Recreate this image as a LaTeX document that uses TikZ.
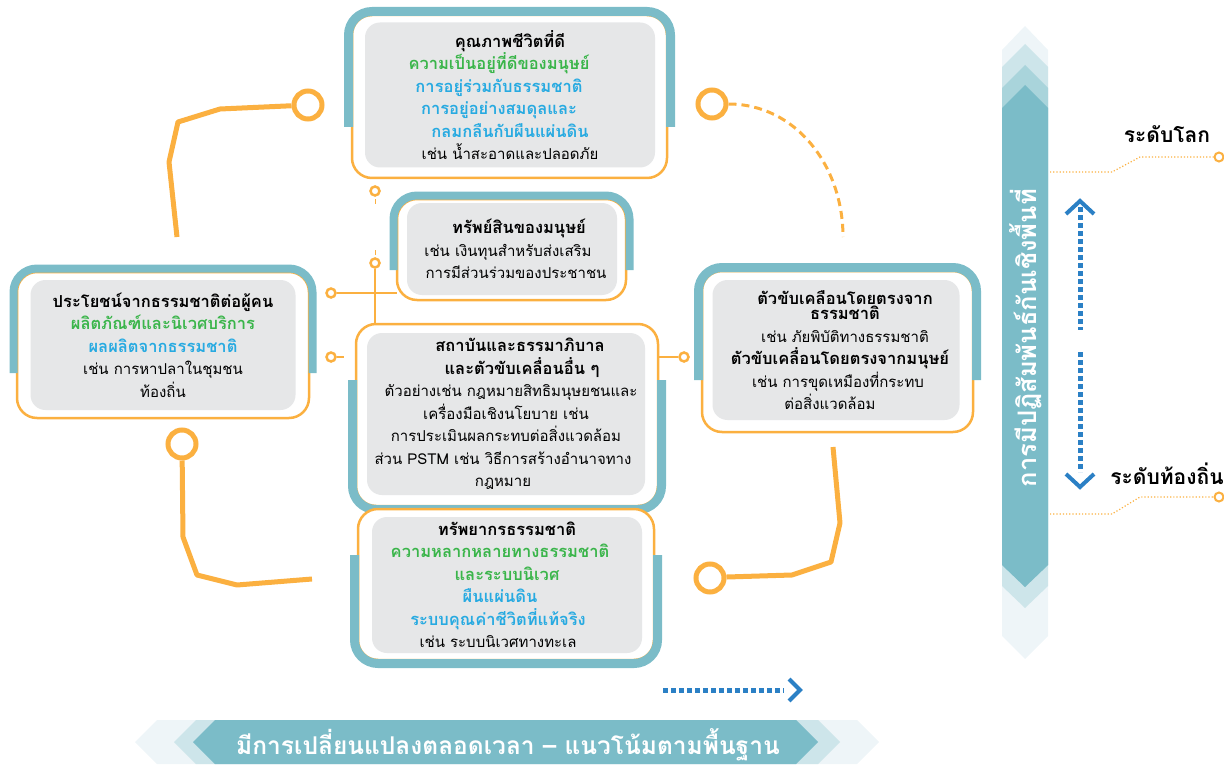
\documentclass[tikz,border=0pt]{standalone}
\usepackage{fontspec}
\setmainfont[Script=Thai]{Loma}
\usepackage{tikz}
\usetikzlibrary{positioning}

\definecolor{teal1}{HTML}{7BBCC8}
\definecolor{pale0}{HTML}{EEF5F8}
\definecolor{pale1}{HTML}{CDE5EA}
\definecolor{pale2}{HTML}{A9D4DB}
\definecolor{orng}{HTML}{FBB040}
\definecolor{boxgray}{HTML}{E6E7E8}
\definecolor{tgreen}{HTML}{3AB54A}
\definecolor{tblue}{HTML}{27AAE1}
\definecolor{arrblue}{HTML}{2B80C5}
\newcommand{\hd}[1]{{\fontsize{16.5}{22.5}\selectfont\bfseries #1}}

\begin{document}
\begin{tikzpicture}[x=1pt,y=-1pt]
\tikzstyle{gbox}=[rectangle, rounded corners=15pt, fill=boxgray, align=center, inner sep=0pt, font=\fontsize{15}{22.5}\selectfont]
\tikzstyle{shell}=[rounded corners=20pt, fill=white, draw=orng, line width=2.5pt]
\tikzstyle{band}=[rounded corners=23.5pt, draw=teal1, line width=9pt]
\tikzstyle{ring}=[circle, draw=orng, fill=white, line width=5pt, minimum size=28pt, inner sep=0pt]
\tikzstyle{knob}=[circle, draw=orng, fill=white, line width=2.5pt, minimum size=9pt, inner sep=0pt]
\tikzstyle{wire}=[draw=orng, line width=5pt, line join=round]
\tikzstyle{twig}=[draw=orng, line width=2pt]
\tikzstyle{hint}=[draw=orng, line width=1.2pt, dotted]
\tikzstyle{trend}=[draw=arrblue, line width=5pt, dash pattern=on 5pt off 3pt]
\tikzstyle{chev}=[draw=arrblue, line width=4pt]
\tikzstyle{lab}=[font=\bfseries\fontsize{21}{24}\selectfont]
\tikzstyle{title}=[text=white, font=\bfseries\fontsize{24.5}{26}\selectfont]
\useasboundingbox (0,0) rectangle (1224,765);
\clip (0,0) rectangle (1224,765);

% side band
\fill[pale0] (1025,26) -- (1048,50) -- (1048,636) -- (1025,659) -- (1002,636) -- (1002,50) -- cycle;
\fill[pale1] (1025,44) -- (1048,67) -- (1048,586) -- (1025,608) -- (1002,586) -- (1002,67) -- cycle;
\fill[pale2] (1025,65) -- (1048,88) -- (1048,565) -- (1025,587) -- (1002,565) -- (1002,88) -- cycle;
\fill[teal1] (1025,85) -- (1048,108) -- (1048,565) -- (1025,587) -- (1002,565) -- (1002,108) -- cycle;
\node[title, rotate=90, font=\bfseries\fontsize{25.5}{26}\selectfont] (vlab) at (1026,338) {การมีปฏิสัมพันธ์กันเชิงพื้นที่};

% bottom banner
\fill[pale0] (135,742) -- (157,720) -- (857,720) -- (879,742) -- (857,764) -- (157,764) -- cycle;
\fill[pale1] (174,742) -- (196,720) -- (818,720) -- (840,742) -- (818,764) -- (196,764) -- cycle;
\fill[teal1] (193,742) -- (215,720) -- (796,720) -- (818,742) -- (796,764) -- (215,764) -- cycle;
\node[title] (hlab) at (508,745) {มีการเปลี่ยนแปลงตลอดเวลา – แนวโน้มตามพื้นฐาน};

% levels
\node[knob, line width=2pt] (glob) at (1219,157) {};
\node[knob, line width=2pt] (locl) at (1219,497) {};
\coordinate (g0) at (1050,172);
\coordinate (l0) at (1050,514);
\draw[hint] (g0) -- (1112,172) -- (1140,157) -- (glob);
\draw[hint] (l0) -- (1112,514) -- (1140,497) -- (locl);
\node[lab] (lglob) at (1167,134) {ระดับโลก};
\node[lab] (llocl) at (1167,474) {ระดับท้องถิ่น};

% arrows
\coordinate (vt) at (1080,207);
\coordinate (vm1) at (1080,330);
\coordinate (vm2) at (1080,352);
\coordinate (vb) at (1080,472);
\draw[trend] (vt) -- (vm1);
\draw[trend] (vm2) -- (vb);
\draw[chev] (1066,214) -- (1080,201) -- (1094,214);
\draw[chev] (1066,474) -- (1080,487) -- (1094,474);
\coordinate (hl) at (663,690);
\coordinate (hr) at (784,690);
\draw[trend] (hl) -- (hr);
\draw[chev] (789,679) -- (800,690) -- (789,701);

% connectors
\node[ring] (r1) at (308,105) {};
\node[ring] (r2) at (712,104) {};
\node[ring] (r3) at (182,444) {};
\node[ring] (r4) at (710,578) {};
\coordinate (p1) at (177,237);
\coordinate (p2) at (843,237);
\coordinate (p3) at (312,579);
\coordinate (p4) at (833,447);
\draw[wire] (p1) -- (169,162) -- (178,122) -- (220,109) -- (r1);
\draw[wire] (r3) -- (183,537) -- (197,575) -- (237,585) -- (p3);
\draw[wire] (p4) -- (840,523) -- (831,562) -- (792,575) -- (727,577) -- (r4);
\draw[orng, line width=3pt, dash pattern=on 8pt off 5pt] (r2.east) .. controls (795,104) and (843,165) .. (p2);

\node[knob] (k1) at (375,191) {};
\node[knob] (k2) at (375,263) {};
\node[knob] (k3) at (331,293) {};
\node[knob] (k4) at (331,357) {};
\node[knob] (k5) at (684,357) {};
\coordinate (b3) at (397,293);
\coordinate (d0) at (375,324);
\coordinate (d1) at (658,357);
\draw[twig] (k3) -- (b3);
\draw[twig] (k2) -- (d0);
\draw[twig] (k4.east) -- ++(7,0);
\draw[twig] (d1) -- (k5);
\draw[twig, line width=1pt] (375,199) -- (375,204);
\draw[twig, line width=1pt] (375,250) -- (375,255);

% boxes
\draw[shell] (352,15) rectangle (667,178);
\draw[band] (348.5,127) -- (348.5,11.5) -- (670.5,11.5) -- (670.5,127);
\node[gbox, minimum width=290pt, minimum height=145pt] (life) at (510,95)
  {\hd{คุณภาพชีวิตที่ดี}\\
   \hspace*{-22pt}\textcolor{tgreen}{\hd{ความเป็นอยู่ที่ดีของมนุษย์}}\\
   \hspace*{-22pt}\textcolor{tblue}{\hd{การอยู่ร่วมกับธรรมชาติ}}\\
   \hspace*{-22pt}\textcolor{tblue}{\hd{การอยู่อย่างสมดุลและ}}\\
   \textcolor{tblue}{\hd{กลมกลืนกับผืนแผ่นดิน}}\\
   เช่น น้ำสะอาดและปลอดภัย};

\draw[shell] (397,199) rectangle (626,300);
\draw[band, line width=8pt] (393.5,270) -- (393.5,195.5) -- (629.5,195.5) -- (629.5,270);
\node[gbox, minimum width=210pt, minimum height=92pt] (asset) at (512,249)
  {\hspace*{14pt}\hd{ทรัพย์สินของมนุษย์}\\
   \hspace*{-8pt}เช่น เงินทุนสำหรับส่งเสริม\\
   \hspace*{8pt}การมีส่วนร่วมของประชาชน};

\draw[shell] (17,272) rectangle (309,418);
\draw[band, line width=8pt] (13.5,373) -- (13.5,268.5) -- (312.5,268.5) -- (312.5,373);
\node[gbox, minimum width=265pt, minimum height=130pt] (gain) at (163,345)
  {\hd{ประโยชน์จากธรรมชาติต่อผู้คน}\\
   \textcolor{tgreen}{\hd{ผลิตภัณฑ์และนิเวศบริการ}}\\
   \textcolor{tblue}{\hd{ผลผลิตจากธรรมชาติ}}\\
   เช่น การหาปลาในชุมชน\\
   ท้องถิ่น};

\draw[shell] (356,324) rectangle (658,506);
\draw[band] (352.5,380) -- (352.5,509.5) -- (661.5,509.5) -- (661.5,380);
\node[gbox, minimum width=278pt, minimum height=162pt] (rule) at (506,414)
  {\hspace*{28pt}\hd{สถาบันและธรรมาภิบาล}\\
   \hspace*{32pt}\hd{และตัวขับเคลื่อนอื่น ๆ}\\
   \hspace*{10pt}ตัวอย่างเช่น กฎหมายสิทธิมนุษยชนและ\\
   เครื่องมือเชิงนโยบาย เช่น\\
   การประเมินผลกระทบต่อสิ่งแวดล้อม\\
   \hspace*{-6pt}ส่วน PSTM เช่น วิธีการสร้างอำนาจทาง\\
   \hspace*{-6pt}กฎหมาย};

\draw[shell] (358,509) rectangle (654,660);
\draw[band] (354.5,555) -- (354.5,663.5) -- (657.5,663.5) -- (657.5,555);
\node[gbox, minimum width=270pt, minimum height=136pt] (nature) at (507,585)
  {\hd{ทรัพยากรธรรมชาติ}\\
   \hspace*{-14pt}\textcolor{tgreen}{\hd{ความหลากหลายทางธรรมชาติ}}\\
   \textcolor{tgreen}{\hd{และระบบนิเวศ}}\\
   \hspace*{-14pt}\textcolor{tblue}{\hd{ผืนแผ่นดิน}}\\
   \hspace*{-18pt}\textcolor{tblue}{\hd{ระบบคุณค่าชีวิตที่แท้จริง}}\\
   \hspace*{-18pt}เช่น ระบบนิเวศทางทะเล};

\draw[shell] (702,271) rectangle (973,432);
\draw[band] (698.5,380) -- (698.5,267.5) -- (976.5,267.5) -- (976.5,380);
\node[gbox, minimum width=247pt, minimum height=140pt] (drive) at (836,350)
  {\hspace*{18pt}\hd{ตัวขับเคลือนโดยตรงจาก}\\[-7pt]
   \hspace*{18pt}\hd{ธรรมชาติ}\\
   \hspace*{18pt}เช่น ภัยพิบัติทางธรรมชาติ\\
   \hspace*{8pt}\hd{ตัวขับเคลื่อนโดยตรงจากมนุษย์}\\
   \hspace*{4pt}เช่น การขุดเหมืองที่กระทบ\\
   \hspace*{-12pt}ต่อสิ่งแวดล้อม};
\end{tikzpicture}
\end{document}
